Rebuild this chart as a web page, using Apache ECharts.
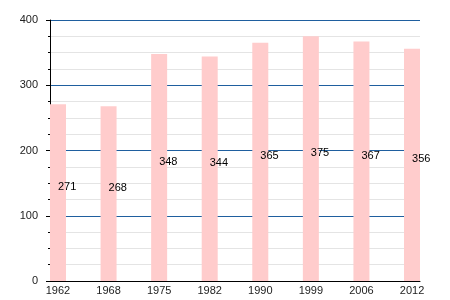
<!DOCTYPE html>
<html><head><meta charset="utf-8">
<script src="https://cdn.jsdelivr.net/npm/echarts@6/dist/echarts.min.js"></script>
<style>html,body{margin:0;padding:0;background:#fff}#c{width:450px;height:300px}</style>
</head><body><div id="c"></div>
<script>
const years = ['1962','1968','1975','1982','1990','1999','2006','2012'];
const values = [271, 268, 348, 344, 365, 375, 367, 356];
const yTicks = [0, 100, 200, 300, 400];

const chart = echarts.init(document.getElementById('c'), null, {renderer:'canvas'});
const idx = years.map((_, i) => i);
chart.setOption({
  animation: false,
  grid: {left: 50, right: 30, top: 20, bottom: 19, containLabel: false},
  xAxis: {
    type: 'value', min: -0.158, max: idx.length - 1 + 0.158,
    axisLine: {show: true, onZero: false, lineStyle: {color: '#000', width: 1}},
    axisTick: {show: false},
    splitLine: {show: false},
    axisLabel: {customValues: idx, formatter: v => years[Math.round(v)] || '', color: '#222', fontSize: 11, fontFamily: 'Liberation Sans, Arial, sans-serif', margin: 4}
  },
  yAxis: {
    type: 'value', min: yTicks[0], max: yTicks[yTicks.length-1], interval: 100,
    axisLine: {show: true, onZero: false, lineStyle: {color: '#000', width: 1}},
    axisTick: {show: true, length: 4, lineStyle: {color: '#000'}},
    minorTick: {show: true, splitNumber: 4, length: 2, lineStyle: {color: '#000'}},
    splitLine: {show: true, lineStyle: {color: '#1f5f9f', width: 1}},
    minorSplitLine: {show: true, lineStyle: {color: '#e4e4e4', width: 1}},
    axisLabel: {color: '#222', fontSize: 11, fontFamily: 'Liberation Sans, Arial, sans-serif', margin: 12}
  },
  series: [{
    type: 'bar', barWidth: 16,
    data: values.map((v, i) => [i, v]),
    itemStyle: {color: '#ffcccc'},
    label: {show: true, position: 'inside', align: 'left', verticalAlign: 'bottom',
      formatter: p => p.value[1], color: '#000', fontSize: 11, fontFamily: 'Liberation Sans, Arial, sans-serif'}
  }]
});
</script></body></html>
